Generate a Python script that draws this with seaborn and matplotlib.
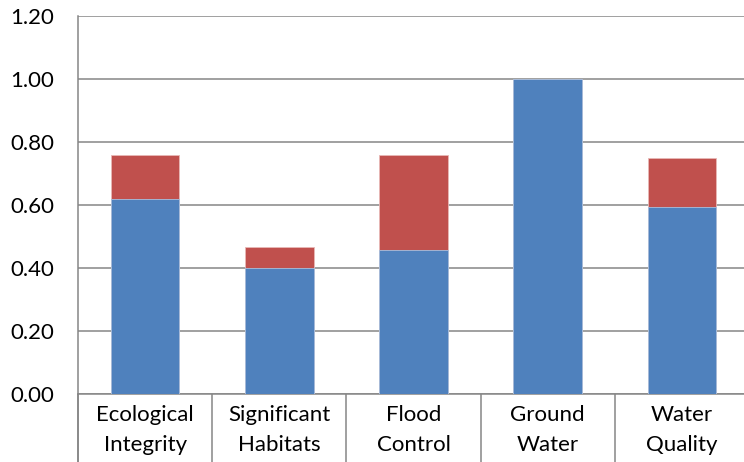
import matplotlib

matplotlib.use("Agg")

import matplotlib.pyplot as plt
import numpy as np
import pandas as pd
import seaborn as sns


CATEGORIES = ["Ecological\nIntegrity", "Significant\nHabitats", "Flood\nControl",
              "Ground\nWater", "Water\nQuality"]
BASE_VALUES = [0.62, 0.40, 0.456, 1.00, 0.593]
TOP_VALUES = [0.14, 0.066, 0.302, 0.0, 0.157]
Y_TICKS = [0.0, 0.2, 0.4, 0.6, 0.8, 1.0, 1.2]

BLUE = "#4F81BD"
RED = "#C0504D"
GRID = "#868686"

sns.set_theme(style="white")
plt.rcParams["font.family"] = ["Lato", "DejaVu Sans"]

df = pd.DataFrame({
    "category": CATEGORIES,
    "base": BASE_VALUES,
    "top": TOP_VALUES,
})
df["total"] = df["base"] + df["top"]

fig = plt.figure(figsize=(7.44, 4.62), dpi=100)
ax = fig.add_axes([78 / 744, 68 / 462, 671 / 744, 378 / 462])

# red layer = full stack, blue layer drawn over it
sns.barplot(data=df, x="category", y="total", color=RED, width=0.51,
            saturation=1, edgecolor="#E8B8B6", linewidth=0.6, ax=ax, zorder=3)
sns.barplot(data=df, x="category", y="base", color=BLUE, width=0.51,
            saturation=1, edgecolor="#A9C0DE", linewidth=0.6, ax=ax, zorder=4)

ax.set_xlim(-0.5, len(CATEGORIES) - 0.5)
ax.set_ylim(0, 1.2)
ax.set_yticks(Y_TICKS)
ax.set_yticklabels([f"{v:.2f}" for v in Y_TICKS])
ax.yaxis.grid(True, color=GRID, linewidth=1.1, zorder=0)
ax.set_axisbelow(True)
ax.set_xlabel("")
ax.set_ylabel("")

# separators between categories, hanging below the axis
ax.set_xticks(np.arange(-0.5, len(CATEGORIES)), minor=True)
ax.tick_params(axis="x", which="minor", length=50, width=1.1, color=GRID,
               direction="out", bottom=True)
ax.tick_params(axis="x", which="major", length=0, pad=8, labelsize=16,
               labelcolor="#000000")
ax.tick_params(axis="y", length=0, pad=17, labelsize=16, labelcolor="#000000")
for lbl in ax.get_xticklabels():
    lbl.set_linespacing(1.6)

for side in ["top", "right"]:
    ax.spines[side].set_visible(False)
for side in ["left", "bottom"]:
    ax.spines[side].set_color(GRID)
    ax.spines[side].set_linewidth(1.1)
ax.spines["left"].set_bounds(0, 1.2)
ax.plot([0, 0], [0, -0.2], transform=ax.transAxes, color=GRID,
        linewidth=1.1, clip_on=False)

fig.savefig("out.png", dpi=100)
